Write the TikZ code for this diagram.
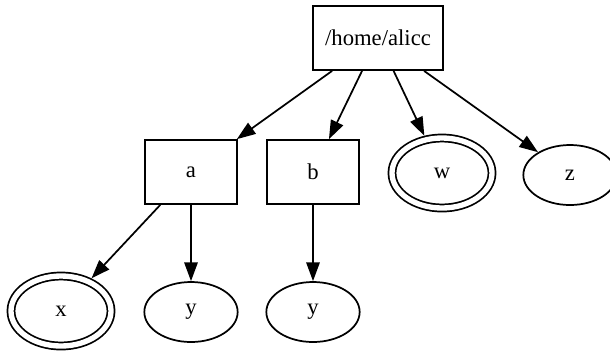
\documentclass[tikz,border=0pt]{standalone}
\usepackage{fontspec}
\setmainfont{Liberation Serif}
\usetikzlibrary{arrows.meta,shapes.geometric}

\begin{document}
\begin{tikzpicture}[x=0.75pt,y=0.75pt,yscale=-1,xscale=1,
  every node/.style={font=\fontsize{17}{20}\selectfont, line width=1.3pt, inner sep=0pt},
  dirbox/.style={draw, rectangle, minimum width=69pt, minimum height=48pt},
  filenode/.style={draw, ellipse, minimum width=70pt, minimum height=45pt},
  dblnode/.style={draw, ellipse, double, double distance=4pt, outer sep=3.3pt, minimum width=75pt, minimum height=52.5pt},
  treeedge/.style={line width=1.3pt, -{Triangle[length=14pt,width=10pt]}}
]
\useasboundingbox (0,0) rectangle (610,351);

% Directories
\node [dirbox, minimum width=97.5pt] (home) at (378,38) {/home/alicc};
\node [dirbox] (a) at (191,172) {a};
\node [dirbox] (b) at (313,172) {b};
% Files
\node [dblnode] (w) at (442,173) {w};
\node [filenode] (z) at (570,175) {z};
\node [dblnode] (ax) at (61,311) {x};
\node [filenode] (ay) at (191,312) {y};
\node [filenode] (by) at (313,312) {y};

% Edges
\draw [treeedge] (home) -- (a);
\draw [treeedge] (home) -- (b);
\draw [treeedge] (home) -- (w);
\draw [treeedge] (home) -- (z);
\draw [treeedge] (a) -- (ax);
\draw [treeedge] (a) -- (ay);
\draw [treeedge] (b) -- (by);

\end{tikzpicture}
\end{document}
